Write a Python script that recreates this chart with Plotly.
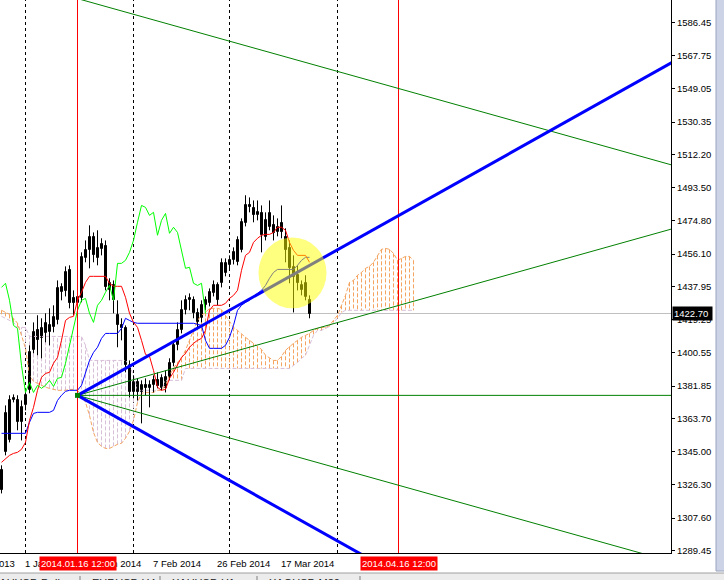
import plotly.graph_objects as go

# ---------------- data (daily bars, index 0 = 24 Dec 2013 ... 77 = 25 Mar 2014) ----------------
open_ = [1334.5, 1344.6, 1351.3, 1373.8, 1373.8, 1361.5, 1371.0, 1379.5, 1402.0, 1413.2,
         1408.7, 1411.5, 1412.1, 1414.9, 1418.8, 1434.6, 1435.1, 1447.0, 1431.2, 1428.4,
         1431.2, 1453.7, 1458.2, 1465.5, 1453.7, 1458.8, 1460.5, 1435.7, 1438.5, 1421.7,
         1416.0, 1414.3, 1393.5, 1378.3, 1384.0, 1378.3, 1382.3, 1380.6, 1382.3, 1385.1,
         1380.6, 1380.6, 1386.8, 1394.7, 1404.8, 1413.2, 1424.5, 1430.1, 1430.1, 1422.8,
         1420.0, 1427.3, 1428.4, 1434.0, 1438.5, 1439.7, 1445.3, 1449.8, 1452.6, 1451.5,
         1458.2, 1473.4, 1483.5, 1481.8, 1477.9, 1479.0, 1465.5, 1471.2, 1472.3, 1468.3,
         1473.4, 1465.5, 1459.3, 1443.0, 1444.2, 1435.7, 1431.8, 1430.1]
high = [1337.3, 1371.0, 1376.7, 1377.2, 1376.7, 1373.8, 1380.6, 1404.8, 1417.7, 1421.7,
        1420.0, 1422.8, 1425.6, 1427.3, 1441.3, 1439.7, 1449.2, 1449.8, 1435.7, 1435.7,
        1457.1, 1463.8, 1472.3, 1468.3, 1469.5, 1465.0, 1463.8, 1442.5, 1441.3, 1430.1,
        1420.0, 1416.0, 1396.3, 1387.9, 1386.2, 1385.1, 1386.2, 1385.1, 1387.9, 1389.6,
        1388.5, 1390.7, 1397.5, 1407.6, 1417.7, 1430.1, 1432.9, 1434.0, 1432.3, 1425.6,
        1430.1, 1432.3, 1436.8, 1441.3, 1440.2, 1453.7, 1453.7, 1455.4, 1459.9, 1466.1,
        1476.2, 1489.2, 1488.0, 1486.3, 1486.3, 1483.5, 1479.6, 1486.3, 1477.9, 1476.2,
        1483.5, 1470.6, 1463.8, 1455.4, 1449.8, 1441.3, 1444.2, 1432.9]
low = [1321.5, 1342.9, 1350.2, 1372.7, 1357.0, 1351.3, 1368.2, 1377.8, 1400.3, 1399.2,
       1397.5, 1406.5, 1404.8, 1412.1, 1416.6, 1430.1, 1432.3, 1425.6, 1421.7, 1425.6,
       1429.0, 1451.5, 1448.1, 1451.5, 1449.8, 1455.4, 1435.7, 1430.1, 1422.8, 1403.7,
       1407.6, 1389.6, 1375.5, 1375.0, 1373.8, 1360.9, 1376.7, 1369.9, 1378.3, 1380.6,
       1379.5, 1378.3, 1385.1, 1393.0, 1402.0, 1411.5, 1422.2, 1424.5, 1420.0, 1414.3,
       1417.7, 1424.5, 1426.7, 1432.3, 1427.3, 1437.4, 1443.6, 1448.1, 1450.3, 1449.8,
       1457.1, 1471.7, 1479.6, 1474.0, 1475.1, 1457.1, 1463.8, 1469.5, 1463.8, 1466.1,
       1465.0, 1451.5, 1439.7, 1423.3, 1435.7, 1432.9, 1430.1, 1420.0]
close = [1323.2, 1366.5, 1373.8, 1375.0, 1361.5, 1369.9, 1376.7, 1400.8, 1412.1, 1407.6,
         1414.3, 1417.2, 1416.0, 1420.5, 1436.8, 1437.4, 1445.8, 1428.4, 1428.4, 1431.8,
         1454.3, 1458.2, 1465.5, 1455.4, 1459.3, 1461.6, 1437.4, 1439.7, 1430.1, 1416.0,
         1414.3, 1393.5, 1378.3, 1384.0, 1378.3, 1382.3, 1380.6, 1382.3, 1385.1, 1381.7,
         1386.2, 1386.8, 1394.7, 1404.8, 1413.2, 1424.5, 1430.1, 1431.2, 1422.8, 1417.7,
         1427.3, 1430.1, 1434.6, 1438.5, 1430.1, 1450.9, 1450.9, 1452.6, 1457.1, 1463.8,
         1474.0, 1483.5, 1482.4, 1477.9, 1479.6, 1466.7, 1475.1, 1479.0, 1467.8, 1471.2,
         1468.3, 1458.2, 1448.1, 1448.7, 1439.7, 1438.5, 1439.7, 1422.7]

tenkan = [1339.0, 1341.2, 1342.9, 1344.0, 1344.6, 1346.3, 1350.2, 1362.6, 1369.9, 1379.5,
          1386.8, 1389.0, 1389.6, 1394.7, 1398.0, 1407.6, 1418.8, 1420.5, 1421.1, 1430.1,
          1434.6, 1440.2, 1443.6, 1443.6, 1443.6, 1443.6, 1443.6, 1439.7, 1438.0, 1438.0,
          1438.0, 1431.8, 1422.8, 1417.7, 1414.9, 1407.6, 1399.7, 1398.6, 1390.7, 1381.2,
          1379.5, 1380.0, 1386.2, 1389.6, 1394.1, 1398.0, 1400.3, 1403.7, 1405.9, 1407.6,
          1408.7, 1413.2, 1424.5, 1427.3, 1427.3, 1427.3, 1428.4, 1431.2, 1432.9, 1435.7,
          1447.0, 1455.4, 1457.1, 1462.7, 1465.0, 1466.7, 1467.2, 1467.2, 1468.3, 1471.2,
          1471.2, 1469.5, 1462.7, 1458.2, 1455.4, 1455.4, 1455.4, 1451.5]
kijun = [1355.3, 1355.3, 1355.3, 1355.3, 1355.3, 1355.3, 1355.3, 1361.5, 1366.5, 1367.1,
         1367.1, 1367.1, 1367.1, 1368.2, 1373.8, 1376.7, 1378.9, 1379.5, 1379.5, 1379.5,
         1382.3, 1389.6, 1396.3, 1400.8, 1403.7, 1408.7, 1411.5, 1411.5, 1411.5, 1411.5,
         1414.3, 1420.0, 1418.8, 1417.7, 1417.2, 1417.2, 1417.2, 1417.2, 1417.2, 1417.2,
         1417.2, 1417.2, 1417.2, 1417.2, 1417.2, 1417.2, 1417.2, 1417.2, 1417.2, 1416.6,
         1416.0, 1407.6, 1403.1, 1403.1, 1403.1, 1403.1, 1404.8, 1409.3, 1416.0, 1424.5,
         1427.3, 1429.0, 1430.1, 1432.3, 1434.0, 1435.7, 1438.5, 1442.5, 1445.8, 1447.5,
         1447.5, 1447.5, 1447.5, 1447.5, 1449.8, 1452.6, 1454.3, 1454.3]
senkou_a = [1424.5, 1423.3, 1422.2, 1420.0, 1417.2, 1410.4, 1403.1, 1387.9, 1384.5, 1383.4,
            1382.3, 1381.2, 1380.6, 1380.0, 1379.5, 1379.5, 1379.5, 1380.0, 1380.0, 1379.5,
            1376.7, 1372.7, 1365.4, 1355.8, 1350.2, 1348.0, 1346.8, 1346.8, 1348.0, 1349.1,
            1349.7, 1352.5, 1356.4, 1362.6, 1372.7, 1377.8, 1378.3, 1378.3, 1378.3, 1379.5,
            1379.5, 1382.3, 1387.9, 1391.8, 1395.2, 1397.5, 1402.0, 1407.6, 1413.2, 1418.8,
            1421.7, 1423.3, 1425.6, 1425.6, 1425.6, 1425.0, 1421.7, 1417.7, 1414.9, 1413.2,
            1411.0, 1409.3, 1407.6, 1405.9, 1404.2, 1402.5, 1399.2, 1397.5, 1396.3, 1396.3,
            1398.6, 1402.0, 1404.2, 1405.9, 1407.6, 1409.3, 1410.4, 1411.5, 1413.2, 1414.3,
            1414.9, 1414.9, 1416.0, 1418.8, 1421.7, 1427.3, 1432.9, 1440.2, 1441.3, 1444.2,
            1445.8, 1448.1, 1449.2, 1451.5, 1455.4, 1458.8, 1459.3, 1458.8, 1456.5, 1452.6,
            1453.7, 1454.8, 1454.8, 1452.6]
senkou_b = [1421.1, 1420.0, 1418.8, 1417.7, 1414.9, 1414.9, 1414.9, 1409.8, 1409.8, 1409.8,
            1409.8, 1409.8, 1409.8, 1409.8, 1409.8, 1409.8, 1409.8, 1409.8, 1409.8, 1409.8,
            1409.8, 1404.8, 1396.3, 1396.3, 1396.3, 1396.3, 1396.3, 1396.3, 1396.3, 1396.3,
            1396.3, 1396.3, 1393.5, 1387.9, 1379.5, 1379.5, 1379.5, 1379.5, 1379.5, 1379.5,
            1379.5, 1385.1, 1385.1, 1385.1, 1385.1, 1385.1, 1391.8, 1391.8, 1391.8, 1391.8,
            1391.8, 1391.8, 1391.8, 1391.8, 1391.8, 1391.8, 1391.8, 1391.8, 1391.8, 1391.8,
            1391.8, 1391.8, 1391.8, 1391.8, 1391.8, 1391.8, 1391.8, 1391.8, 1391.8, 1391.8,
            1391.8, 1391.8, 1391.8, 1393.5, 1395.2, 1397.5, 1399.2, 1404.8, 1410.4, 1413.2,
            1413.2, 1414.3, 1415.4, 1417.7, 1420.0, 1423.3, 1424.5, 1424.5, 1424.5, 1424.5,
            1424.5, 1424.5, 1424.5, 1424.5, 1424.5, 1424.5, 1424.5, 1424.5, 1424.5, 1424.5,
            1424.5, 1424.5, 1424.5, 1424.5]
chikou_shift = 26

month_separators = [6, 33, 57, 84]
date_lines = [19, 99.25]
date_line_labels = ["2014.01.16 12:00", "2014.04.16 12:00"]
date_tick_bars = [-10, 6, 22, 38, 54, 70]
date_tick_labels = ["13 Dec 2013", "1 Jan 2014", "20 Jan 2014", "7 Feb 2014",
                    "26 Feb 2014", "17 Mar 2014"]
price_ticks = [1586.45, 1567.75, 1549.05, 1530.35, 1512.20, 1493.50, 1474.80, 1456.10,
               1437.95, 1419.25, 1400.55, 1381.85, 1363.70, 1345.00, 1326.30, 1307.60, 1289.45]
current_price = 1422.70

fan_origin_bar = 19
fan_origin_price = 1376.65
fan_steep_slope = 1.26
fan_shallow_slope = 0.63
channel_bar0_price = 1611.8
channel_slope = -0.63
line_end_bar = 170

highlight_bars = (64.25, 81.25)
highlight_prices = (1425.6, 1465.5)

tabs = ["XAUUSD,Daily", "EURUSD,H4", "XAUUSD,H1", "XAGUSD,M30"]

# ---------------- geometry of the window ----------------
X_RANGE = [-0.375, 167.375]
Y_RANGE = [1287.98, 1599.04]
W, H = 724, 580
PW, PH = 671, 553          # plot area size in px (left=0, top=0)
FONT = "Liberation Sans"


def px(xp):
    return xp / PW


def py(yp):
    return (PH - yp) / PH


def bar_to_paper(b):
    return (b - X_RANGE[0]) / (X_RANGE[1] - X_RANGE[0])


fig = go.Figure()
n = len(close)
idx = list(range(n))
HATCH = "4px,2px"

# ---- Ichimoku cloud hatches ----
ox, oy, tx, ty = [], [], [], []
for i, (a, b) in enumerate(zip(senkou_a, senkou_b)):
    if a >= b:
        ox += [i, i, None]
        oy += [a, b, None]
    else:
        tx += [i, i, None]
        ty += [a, b, None]
fig.add_trace(go.Scatter(x=tx, y=ty, mode="lines",
                         line=dict(color="#D8BFD8", width=1, dash=HATCH), hoverinfo="skip"))
fig.add_trace(go.Scatter(x=ox, y=oy, mode="lines",
                         line=dict(color="#F4A460", width=1, dash=HATCH), hoverinfo="skip"))
cidx = list(range(len(senkou_a)))
fig.add_trace(go.Scatter(x=cidx, y=senkou_b, mode="lines",
                         line=dict(color="#D8BFD8", width=1, dash=HATCH), hoverinfo="skip"))
fig.add_trace(go.Scatter(x=cidx, y=senkou_a, mode="lines",
                         line=dict(color="#F4A460", width=1, dash=HATCH), hoverinfo="skip"))

# ---- candles ----
wx, wy = [], []
for i in idx:
    wx += [i, i, None]
    wy += [low[i], high[i], None]
fig.add_trace(go.Scatter(x=wx, y=wy, mode="lines", line=dict(color="black", width=1),
                         hoverinfo="skip"))
bull = [i for i in idx if close[i] >= open_[i]]
bear = [i for i in idx if close[i] < open_[i]]
fig.add_trace(go.Bar(x=bull, y=[close[i] - open_[i] for i in bull], base=[open_[i] for i in bull],
                     width=0.5, marker=dict(color="white", line=dict(color="black", width=1)),
                     hoverinfo="skip"))
fig.add_trace(go.Bar(x=bear, y=[close[i] - open_[i] for i in bear], base=[open_[i] for i in bear],
                     width=0.5, marker=dict(color="black", line=dict(color="black", width=1)),
                     hoverinfo="skip"))

# ---- Ichimoku lines ----
fig.add_trace(go.Scatter(x=idx, y=kijun, mode="lines", line=dict(color="#0000FF", width=1),
                         hoverinfo="skip"))
fig.add_trace(go.Scatter(x=idx, y=tenkan, mode="lines", line=dict(color="#FF0000", width=1),
                         hoverinfo="skip"))
fig.add_trace(go.Scatter(x=[i - chikou_shift for i in idx[chikou_shift:]], y=close[chikou_shift:],
                         mode="lines", line=dict(color="#00FF00", width=1), hoverinfo="skip"))

# ---- date vertical lines (objects) ----
for b in date_lines:
    fig.add_trace(go.Scatter(x=[b, b], y=Y_RANGE, mode="lines",
                             line=dict(color="#FF0000", width=1), hoverinfo="skip"))

# ---- fan / trend lines ----
span = line_end_bar - fan_origin_bar
green = "#008000"
fig.add_trace(go.Scatter(x=[fan_origin_bar, line_end_bar],
                         y=[fan_origin_price, fan_origin_price], mode="lines",
                         line=dict(color=green, width=1), hoverinfo="skip"))
for s in (fan_shallow_slope, -fan_shallow_slope):
    fig.add_trace(go.Scatter(x=[fan_origin_bar, line_end_bar],
                             y=[fan_origin_price, fan_origin_price + s * span], mode="lines",
                             line=dict(color=green, width=1), hoverinfo="skip"))
fig.add_trace(go.Scatter(x=[0, line_end_bar],
                         y=[channel_bar0_price, channel_bar0_price + channel_slope * line_end_bar],
                         mode="lines", line=dict(color=green, width=1), hoverinfo="skip"))
for s in (fan_steep_slope, -fan_steep_slope):
    fig.add_trace(go.Scatter(x=[fan_origin_bar, line_end_bar],
                             y=[fan_origin_price, fan_origin_price + s * span], mode="lines",
                             line=dict(color="#0000FF", width=3), hoverinfo="skip"))
fig.add_trace(go.Scatter(x=[fan_origin_bar], y=[fan_origin_price], mode="markers",
                         marker=dict(color=green, size=5, symbol="square"), hoverinfo="skip"))

shapes = []
for b in month_separators:
    shapes.append(dict(type="line", xref="x", yref="paper", x0=b, x1=b, y0=0, y1=1,
                       line=dict(color="black", width=1, dash="3px,3px"), layer="below"))
shapes.append(dict(type="line", xref="paper", yref="y", x0=0, x1=1, y0=current_price,
                   y1=current_price, line=dict(color="#C0C0C0", width=1), layer="below"))
# yellow highlight
shapes.append(dict(type="circle", xref="x", yref="y", x0=highlight_bars[0], x1=highlight_bars[1],
                   y0=highlight_prices[0], y1=highlight_prices[1], fillcolor="#FFFF00",
                   opacity=0.5, line=dict(width=0), layer="above"))
# window chrome: right strip and tab bar
shapes.append(dict(type="rect", xref="paper", yref="paper", x0=px(716), x1=px(725), y0=py(571),
                   y1=py(-2), fillcolor="#CDD3E6", line=dict(color="#9AA3C0", width=1), layer="above"))
shapes.append(dict(type="rect", xref="paper", yref="paper", x0=px(-2), x1=px(726), y0=py(582),
                   y1=py(573), fillcolor="#ECECEC", line=dict(color="#A0A0A0", width=1), layer="above"))
for sx in (80, 160, 257, 360):
    shapes.append(dict(type="line", xref="paper", yref="paper", x0=px(sx), x1=px(sx), y0=py(576),
                       y1=py(582), line=dict(color="#808080", width=1), layer="above"))

annotations = []
for b, t in zip(date_tick_bars, date_tick_labels):
    annotations.append(dict(x=bar_to_paper(b), xref="paper", y=py(563), yref="paper", text=t,
                            showarrow=False, xanchor="left", yanchor="middle", xshift=-3,
                            font=dict(family=FONT, size=9.5, color="black")))
for b, t in zip(date_lines, date_line_labels):
    annotations.append(dict(x=b, xref="x", y=py(563), yref="paper", text=t, showarrow=False,
                            xanchor="center", yanchor="middle", bgcolor="#FF0000", borderpad=1,
                            font=dict(family=FONT, size=9.5, color="white")))
annotations.append(dict(x=px(672), xref="paper", y=current_price, yref="y",
                        text=f"{current_price:.2f} ", showarrow=False, xanchor="left",
                        yanchor="middle", bgcolor="black", borderpad=1,
                        font=dict(family=FONT, size=9.5, color="white")))
tab_pos = [(68, "right"), (90, "left"), (170, "left"), (267, "left")]
for (tpx, anc), t in zip(tab_pos, tabs):
    annotations.append(dict(x=px(tpx), xref="paper", y=py(575), yref="paper", text=t,
                            showarrow=False, xanchor=anc, yanchor="top",
                            font=dict(family=FONT, size=11, color="#202020")))

fig.update_layout(
    width=W, height=H, template="none", showlegend=False, barmode="overlay", bargap=0,
    margin=dict(l=0, r=W - PW, t=0, b=H - PH, pad=0),
    paper_bgcolor="white", plot_bgcolor="white",
    font=dict(family=FONT, size=9.5, color="black"),
    shapes=shapes, annotations=annotations,
    xaxis=dict(range=X_RANGE, showgrid=False, zeroline=False, showticklabels=False, ticks="",
               showline=True, linecolor="black", linewidth=1, fixedrange=True, automargin=False),
    yaxis=dict(range=Y_RANGE, side="right", showgrid=False, zeroline=False,
               tickvals=price_ticks, ticktext=[f"{v:.2f}" for v in price_ticks],
               ticks="outside", ticklen=3, tickwidth=1, tickcolor="black",
               showline=True, linecolor="black", linewidth=1, fixedrange=True, automargin=False,
               tickfont=dict(family=FONT, size=9.5, color="black")),
)

fig.write_html("out.html", config={"displayModeBar": False},
               post_script="document.body.style.margin='0px';document.body.style.overflow='hidden';")
